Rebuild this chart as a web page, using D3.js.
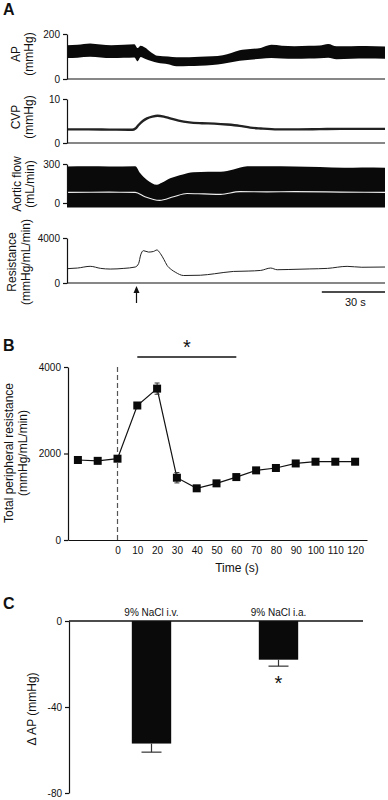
<!DOCTYPE html>
<html>
<head>
<meta charset="utf-8">
<script src="https://cdn.jsdelivr.net/npm/d3@7"></script>
<style>
  body { margin: 0; background: #fff; }
  svg { display: block; }
</style>
</head>
<body>
<div id="chart"></div>
<script>
const width = 388;
const height = 800;
const font = "Liberation Sans, Arial, sans-serif";

// ---- Panel A: raw traces (time in s) ----
const apTime = [0, 5, 11, 16, 21, 27, 32, 33.5, 35, 37, 40, 43, 48, 52, 58, 63, 69, 74, 78, 82, 87, 92, 97, 102, 108, 115, 120, 124, 128, 135, 142, 151];
const apSys = [150, 152, 158, 153, 150, 152, 155, 138, 148, 140, 118, 103, 100, 97, 97, 99, 101, 106, 116, 128, 133, 138, 152, 148, 146, 148, 149, 156, 146, 146, 147, 145];
const apDia = [93, 95, 99, 96, 93, 94, 96, 79, 98, 90, 80, 72, 66, 57, 58, 59, 62, 68, 75, 81, 86, 90, 93, 91, 90, 91, 92, 94, 88, 90, 91, 90];

const cvpTime = [0, 10, 20, 31, 32.5, 34, 36, 38, 40.5, 43, 46, 49, 53, 58, 64, 70, 76, 82, 87, 92, 100, 110, 120, 130, 140, 151];
const cvpVal = [3.1, 3.1, 3.05, 3.0, 3.3, 4.1, 5.0, 5.6, 6.0, 6.2, 6.0, 5.6, 5.1, 4.7, 4.5, 4.4, 4.2, 3.9, 3.5, 3.3, 3.1, 3.1, 3.15, 3.2, 3.2, 3.2];

const flowTime = [0, 10, 20, 32.4, 34.8, 38, 42.7, 45, 49, 55, 60, 67, 73, 79, 85.6, 95, 108, 120, 131.6, 140, 151];
const flowTop = [280, 282, 281, 283, 228, 177, 140, 155, 190, 220, 236, 240, 241, 258, 283, 282, 280, 277, 272, 274, 272];
const flowFloor = -35;
const flowMeanTime = [0, 20, 32.4, 37, 44, 50.6, 57, 65, 73, 82, 95, 108, 130, 151];
const flowMean = [82, 83, 82, 48, 20, 48, 73, 70, 67, 87, 86, 87, 84, 82];

const resTime = [0, 5, 11, 16, 20.5, 27, 32.4, 34, 35, 36.3, 38.7, 41, 42.7, 44.3, 46, 47.5, 49.5, 51.4, 55.4, 63.3, 70, 79, 86, 92, 96.7, 99.8, 105, 115, 123.7, 133, 140, 151];
const resVal = [1273, 1330, 1482, 1300, 1240, 1300, 1420, 1727, 2500, 2873, 2750, 2800, 2936, 2630, 2100, 1570, 1200, 964, 664, 690, 820, 1027, 1060, 1118, 1330, 1180, 1200, 1250, 1300, 1480, 1400, 1420];

const injectT = 33;
const scaleBarSec = 30;

// ---- Panel B: total peripheral resistance ----
const tprTime = [-20, -10, 0, 10, 20, 30, 40, 50, 60, 70, 80, 90, 100, 110, 120];
const tprMean = [1850, 1830, 1880, 3110, 3500, 1440, 1195, 1310, 1455, 1610, 1665, 1770, 1810, 1810, 1810];
const tprErr = [40, 40, 50, 60, 130, 120, 40, 40, 50, 40, 40, 40, 40, 40, 40];
const tprXTicks = [0, 10, 20, 30, 40, 50, 60, 70, 80, 90, 100, 110, 120];
const tprYTicks = [0, 2000, 4000];
const sigRange = [10, 60];

// ---- Panel C: change in AP ----
const groups = ["9% NaCl i.v.", "9% NaCl i.a."];
const dAP = [-57, -18];
const dAPErr = [4, 3];
const dAPTicks = [0, -40, -80];

const svg = d3
  .select("#chart")
  .append("svg")
  .attr("width", width)
  .attr("height", height)
  .style("font-family", font);

function leftAxis(scale, ticks, x) {
  svg
    .append("g")
    .attr("transform", `translate(${x},0)`)
    .call(d3.axisLeft(scale).tickValues(ticks).tickFormat((d) => String(d))
      .tickSize(4).tickSizeOuter(0).tickPadding(3))
    .attr("font-family", font)
    .call((a) => a.selectAll("text").attr("font-size", 10).attr("fill", "#111"))
    .call((a) => a.selectAll("path,line").attr("stroke", "#111").attr("stroke-width", 1.2));
}

function hLine(x1, x2, y, w = 1.2) {
  svg.append("line").attr("x1", x1).attr("x2", x2).attr("y1", y).attr("y2", y)
    .attr("stroke", "#111").attr("stroke-width", w);
}

function vLabel(lines, xs, yc, size = 12) {
  lines.forEach((t, i) => {
    svg.append("text")
      .attr("transform", `translate(${xs[i]},${yc}) rotate(-90)`)
      .attr("text-anchor", "middle")
      .attr("dy", "0.35em")
      .attr("font-size", size)
      .attr("fill", "#111")
      .text(t);
  });
}

function panelLetter(t, y) {
  svg.append("text").attr("x", 3).attr("y", y).attr("font-size", 16)
    .attr("font-weight", "bold").attr("fill", "#111").text(t);
}

// ================= Panel A =================
panelLetter("A", 15);
const xA = d3.scaleLinear().domain([0, 151]).range([67, 385]);

// AP
const yAP = d3.scaleLinear().domain([0, 200]).range([79, 34]);
const apData = apTime.map((t, i) => ({ t, hi: apSys[i], lo: apDia[i] }));
svg.append("path").datum(apData)
  .attr("fill", "#0a0a0a")
  .attr("d", d3.area().x((d) => xA(d.t)).y0((d) => yAP(d.lo)).y1((d) => yAP(d.hi)).curve(d3.curveMonotoneX));
hLine(67, 385, yAP(0));
leftAxis(yAP, [0, 200], 67);
vLabel(["AP", "(mmHg)"], [16, 29], 54);

// CVP
const yCVP = d3.scaleLinear().domain([0, 10]).range([143, 99]);
const cvpData = cvpTime.map((t, i) => ({ t, v: cvpVal[i] }));
svg.append("path").datum(cvpData)
  .attr("fill", "none").attr("stroke", "#222").attr("stroke-width", 2.4)
  .attr("d", d3.line().x((d) => xA(d.t)).y((d) => yCVP(d.v)).curve(d3.curveMonotoneX));
hLine(67, 385, yCVP(0));
leftAxis(yCVP, [0, 10], 67);
vLabel(["CVP", "(mmHg)"], [16, 29], 117);

// Aortic flow
const yFlow = d3.scaleLinear().domain([0, 300]).range([203, 164]);
const flowData = flowTime.map((t, i) => ({ t, v: flowTop[i] }));
svg.append("path").datum(flowData)
  .attr("fill", "#0a0a0a")
  .attr("d", d3.area().x((d) => xA(d.t)).y0(yFlow(flowFloor)).y1((d) => yFlow(d.v)).curve(d3.curveMonotoneX));
const meanData = flowMeanTime.map((t, i) => ({ t, v: flowMean[i] }));
svg.append("path").datum(meanData)
  .attr("fill", "none").attr("stroke", "#eee").attr("stroke-width", 1.2)
  .attr("d", d3.line().x((d) => xA(d.t)).y((d) => yFlow(d.v)).curve(d3.curveMonotoneX));
leftAxis(yFlow, [0, 300], 67);
vLabel(["Aortic flow", "(mL/min)"], [17, 30], 184);

// Resistance
const yRes = d3.scaleLinear().domain([0, 4000]).range([283, 238]);
const resData = resTime.map((t, i) => ({ t, v: resVal[i] }));
svg.append("path").datum(resData)
  .attr("fill", "none").attr("stroke", "#222").attr("stroke-width", 1)
  .attr("d", d3.line().x((d) => xA(d.t)).y((d) => yRes(d.v)).curve(d3.curveMonotoneX));
hLine(67, 385, yRes(0));
leftAxis(yRes, [0, 4000], 67);
vLabel(["Resistance", "(mmHg/mL/min)"], [12, 26], 262);

// injection arrow
const ax = xA(injectT);
svg.append("line").attr("x1", ax).attr("x2", ax).attr("y1", 290).attr("y2", 303)
  .attr("stroke", "#111").attr("stroke-width", 1.2);
svg.append("path").attr("d", `M${ax},286 L${ax - 3},293 L${ax + 3},293 Z`).attr("fill", "#111");

// 30 s scale bar
hLine(xA(151 - scaleBarSec), xA(151), 292, 1.5);
svg.append("text").attr("x", (xA(151 - scaleBarSec) + xA(151)) / 2 + 2).attr("y", 306)
  .attr("text-anchor", "middle").attr("font-size", 11).attr("fill", "#111").text(`${scaleBarSec} s`);

// ================= Panel B =================
panelLetter("B", 351);
const xB = d3.scaleLinear().domain([-25, 126]).range([68, 367]);
const yB = d3.scaleLinear().domain([0, 4000]).range([540, 367]);

svg.append("line").attr("x1", xB(0)).attr("x2", xB(0)).attr("y1", yB(4000)).attr("y2", yB(0))
  .attr("stroke", "#555").attr("stroke-width", 1.2).attr("stroke-dasharray", "5,3");

svg.append("g")
  .attr("transform", `translate(0,${yB(0)})`)
  .call(d3.axisBottom(xB).tickValues(tprXTicks).tickSize(0).tickPadding(7))
  .attr("font-family", font)
  .call((a) => a.select(".domain").attr("stroke", "#111").attr("stroke-width", 1.2))
  .call((a) => a.selectAll("text").attr("font-size", 10).attr("fill", "#111"));
leftAxis(yB, tprYTicks, 68);

const tprData = tprTime.map((t, i) => ({ t, v: tprMean[i], e: tprErr[i] }));
svg.append("path").datum(tprData)
  .attr("fill", "none").attr("stroke", "#111").attr("stroke-width", 1.2)
  .attr("d", d3.line().x((d) => xB(d.t)).y((d) => yB(d.v)));
const eb = svg.append("g").attr("stroke", "#333").attr("stroke-width", 1);
eb.selectAll("line.v").data(tprData).enter().append("line")
  .attr("x1", (d) => xB(d.t)).attr("x2", (d) => xB(d.t))
  .attr("y1", (d) => yB(d.v - d.e)).attr("y2", (d) => yB(d.v + d.e));
eb.selectAll("line.c").data(tprData.flatMap((d) => [d.v - d.e, d.v + d.e].map((v) => ({ t: d.t, v }))))
  .enter().append("line")
  .attr("x1", (d) => xB(d.t) - 2.5).attr("x2", (d) => xB(d.t) + 2.5)
  .attr("y1", (d) => yB(d.v)).attr("y2", (d) => yB(d.v));
svg.selectAll("rect.tpr").data(tprData).enter().append("rect")
  .attr("x", (d) => xB(d.t) - 4).attr("y", (d) => yB(d.v) - 4)
  .attr("width", 8).attr("height", 8).attr("fill", "#0a0a0a");

hLine(xB(sigRange[0]), xB(sigRange[1]), 357, 1.6);
svg.append("text").attr("x", (xB(sigRange[0]) + xB(sigRange[1])) / 2).attr("y", 354)
  .attr("text-anchor", "middle").attr("font-size", 20).attr("fill", "#111").text("*");

svg.append("text").attr("x", 237).attr("y", 572).attr("text-anchor", "middle")
  .attr("font-size", 12).attr("fill", "#111").text("Time (s)");
vLabel(["Total peripheral resistance", "(mmHg/mL/min)"], [9, 23], 453);

// ================= Panel C =================
panelLetter("C", 609);
const xC = d3.scaleBand().domain(groups).range([88, 342]).paddingInner(0.69).paddingOuter(0.345);
const yC = d3.scaleLinear().domain([-80, 0]).range([793, 621]);

const cData = groups.map((g, i) => ({ g, v: dAP[i], e: dAPErr[i] }));
svg.selectAll("rect.bar").data(cData).enter().append("rect")
  .attr("x", (d) => xC(d.g)).attr("y", yC(0))
  .attr("width", xC.bandwidth()).attr("height", (d) => yC(d.v) - yC(0))
  .attr("fill", "#0a0a0a");
const ec = svg.append("g").attr("stroke", "#333").attr("stroke-width", 1.2);
cData.forEach((d) => {
  const cx = xC(d.g) + xC.bandwidth() / 2;
  ec.append("line").attr("x1", cx).attr("x2", cx).attr("y1", yC(d.v)).attr("y2", yC(d.v - d.e));
  ec.append("line").attr("x1", cx - 10).attr("x2", cx + 10).attr("y1", yC(d.v - d.e)).attr("y2", yC(d.v - d.e));
  svg.append("text").attr("x", cx).attr("y", 616).attr("text-anchor", "middle")
    .attr("font-size", 10).attr("fill", "#111").text(d.g);
});
hLine(69, 363, yC(0), 1.5);
leftAxis(yC, dAPTicks, 69);

svg.append("text").attr("x", xC(groups[1]) + xC.bandwidth() / 2).attr("y", 690)
  .attr("text-anchor", "middle").attr("font-size", 20).attr("fill", "#111").text("*");
vLabel(["\u0394 AP (mmHg)"], [32], 709);
</script>
</body>
</html>
